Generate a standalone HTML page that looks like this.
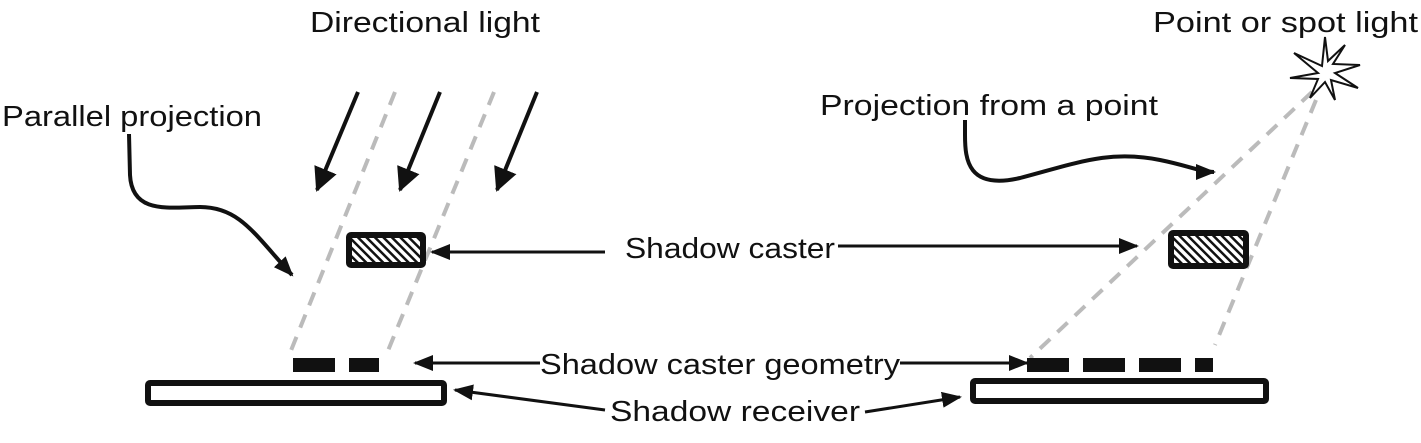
<!DOCTYPE html>
<html><head><meta charset="utf-8"><style>
html,body{margin:0;padding:0;background:#fff;}
svg text{font-family:"Liberation Sans",sans-serif;font-size:29px;fill:#111;}
</style></head><body>
<svg width="1421" height="438" viewBox="0 0 1421 438" xmlns="http://www.w3.org/2000/svg">
<defs>
<marker id="a" markerWidth="20" markerHeight="16" refX="18" refY="8" orient="auto" markerUnits="userSpaceOnUse" viewBox="0 0 20 16"><path d="M0,0 L20,8 L0,16z" fill="#111"/></marker>
<marker id="b" markerWidth="24" markerHeight="24" refX="22" refY="12" orient="auto" markerUnits="userSpaceOnUse" viewBox="0 0 24 24"><path d="M0,0 L24,12 L0,24z" fill="#111"/></marker>
<pattern id="h" width="6" height="6" patternUnits="userSpaceOnUse" patternTransform="rotate(-45)"><rect width="6" height="6" fill="#fff"/><rect width="2.5" height="6" fill="#111"/></pattern>
</defs>
<g>
<text x="310" y="32" textLength="230" lengthAdjust="spacingAndGlyphs">Directional light</text>
<text x="1153" y="32" textLength="265" lengthAdjust="spacingAndGlyphs">Point or spot light</text>
<text x="2" y="126" textLength="260" lengthAdjust="spacingAndGlyphs">Parallel projection</text>
<text x="820" y="115" textLength="338" lengthAdjust="spacingAndGlyphs">Projection from a point</text>
<text x="625" y="258" textLength="210" lengthAdjust="spacingAndGlyphs">Shadow caster</text>
<text x="540" y="374" textLength="360" lengthAdjust="spacingAndGlyphs">Shadow caster geometry</text>
<text x="610" y="421" textLength="250" lengthAdjust="spacingAndGlyphs">Shadow receiver</text>
</g>
<g stroke="#bbb" stroke-width="4" stroke-dasharray="14,10" fill="none">
<line x1="395" y1="92" x2="288" y2="358"/>
<line x1="494" y1="92" x2="385" y2="358"/>
<line x1="1312" y1="92" x2="1030" y2="358"/>
<line x1="1316" y1="100" x2="1215" y2="345"/>
</g>
<g stroke="#111" stroke-width="4" fill="none">
<line x1="358" y1="92" x2="317" y2="190" marker-end="url(#b)"/>
<line x1="440" y1="92" x2="400" y2="190" marker-end="url(#b)"/>
<line x1="537" y1="92" x2="497" y2="190" marker-end="url(#b)"/>
<path d="M129,134 L130,175 C132,215 170,207 200,207 C240,207 255,235 292,275" marker-end="url(#a)"/>
<path d="M965,120 L965,135 C965,160 968,190 1020,178 C1080,162 1110,150 1160,160 C1190,166 1200,172 1214,172" marker-end="url(#a)"/>
</g>
<g stroke="#111" stroke-width="3" fill="none">
<line x1="605" y1="252" x2="432" y2="252" marker-end="url(#a)"/>
<line x1="838" y1="246" x2="1137" y2="246" marker-end="url(#a)"/>
<line x1="540" y1="363" x2="415" y2="363" marker-end="url(#a)"/>
<line x1="900" y1="363" x2="1027" y2="363" marker-end="url(#a)"/>
<line x1="605" y1="410" x2="455" y2="390" marker-end="url(#a)"/>
<line x1="865" y1="412" x2="960" y2="397" marker-end="url(#a)"/>
</g>
<g stroke="#111" stroke-width="6" >
<rect x="349" y="235" width="74" height="30" rx="2" fill="url(#h)"/>
<rect x="1171" y="233" width="75" height="33" rx="2" fill="url(#h)"/>
<rect x="148" y="383" width="296" height="20" rx="2" fill="#fff"/>
<rect x="973" y="381" width="293" height="20" rx="2" fill="#fff"/>
</g>
<g fill="#111">
<rect x="293" y="358" width="42" height="14"/><rect x="349" y="358" width="30" height="14"/>
<rect x="1027" y="358" width="42" height="14"/><rect x="1083" y="358" width="42" height="14"/>
<rect x="1139" y="358" width="42" height="14"/><rect x="1195" y="358" width="18" height="14"/>
</g>
<path d="M1322,66 L1294,53 L1318,73 L1290,78 L1318,79 L1310,98 L1325,82 L1335,100 L1331,80 L1358,88 L1335,73 L1360,65 L1333,64 L1345,45 L1328,61 L1325,37 Z" fill="#fff" stroke="#111" stroke-width="2" stroke-linejoin="miter"/>
</svg>
</body></html>
